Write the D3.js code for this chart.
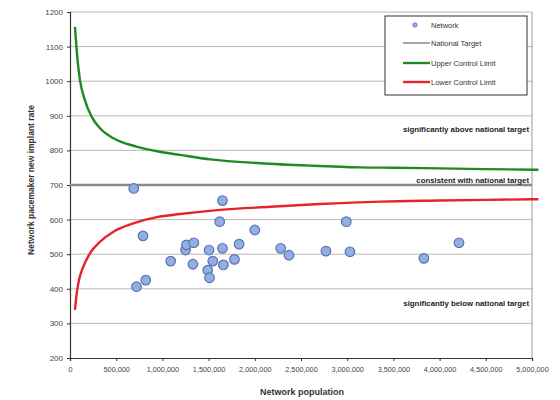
<!DOCTYPE html>
<html><head><meta charset="utf-8">
<script src="https://cdn.jsdelivr.net/npm/d3@7"></script>
<style>body{margin:0;background:#fff}svg{font-family:"Liberation Sans",Arial,sans-serif}</style>
</head><body><svg id="c" width="560" height="400"></svg>
<script>
// Network points: population, rate
const networkPop = [690000,720000,820000,790000,1090000,1250000,1260000,1340000,1330000,1490000,1510000,1505000,1545000,1620000,1650000,1650000,1660000,1780000,1830000,2000000,2280000,2370000,2770000,2990000,3030000,3830000,4210000];
const networkRate = [690,406,425,553,480,512,527,533,471,454,432,512,480,594,655,517,469,485,529,570,517,497,509,594,507,488,533];
const nationalTarget = 700;
// Control limit curves
const upperPop = [54000,80000,108000,160000,235000,325000,470000,720000,970000,1190000,1520000,2060000,2600000,3140000,3500000,4000000,4500000,5070000];
const upperRate = [1157,1065,1003,946,897,864,835,811,796,787,774,763,756,751,750,748,746,744];
const lowerPop = [54000,65000,90000,144000,217000,325000,470000,685000,940000,1190000,1620000,2170000,2700000,3360000,4000000,4500000,5070000];
const lowerRate = [339,370,416,464,503,536,565,589,607,616,628,637,645,652,655,657,659];
const xTicks = [0,500000,1000000,1500000,2000000,2500000,3000000,3500000,4000000,4500000,5000000];
const yTicks = [200,300,400,500,600,700,800,900,1000,1100,1200];
const legendLabels = ["Network","National Target","Upper Control Limit","Lower Control Limit"];
const annotations = [
  {text:"significantly above national target", y:853},
  {text:"consistent with national target", y:706},
  {text:"significantly below national target", y:350}
];

const svg = d3.select("#c");
const L=70,R=532,T=12,B=358;
const x = d3.scaleLinear().domain([0,5000000]).range([L,R]);
const y = d3.scaleLinear().domain([200,1200]).range([B,T]);

// grid
svg.append("g").selectAll("line").data(yTicks.slice(1)).join("line")
  .attr("x1",L).attr("x2",R).attr("y1",d=>y(d)).attr("y2",d=>y(d))
  .attr("stroke","#b8b8b8").attr("stroke-width",1);
// right border
svg.append("line").attr("x1",R).attr("x2",R).attr("y1",T).attr("y2",B).attr("stroke","#999");

// axes
const fmt = d3.format(",");
const xa = svg.append("g").attr("transform",`translate(0,${B})`)
  .call(d3.axisBottom(x).tickValues(xTicks).tickFormat(d=>fmt(d)).tickSize(3).tickPadding(6));
const ya = svg.append("g").attr("transform",`translate(${L},0)`)
  .call(d3.axisLeft(y).tickValues(yTicks).tickFormat(d3.format("d")).tickSize(3).tickPadding(4));
[xa,ya].forEach(a=>{
  a.select(".domain").attr("stroke","#333").attr("stroke-width",1.2);
  a.selectAll(".tick line").attr("stroke","#333");
  a.selectAll("text").attr("fill","#444").attr("font-family","Liberation Sans, Arial, sans-serif");
});
xa.selectAll("text").attr("font-size","7.3px");
ya.selectAll("text").attr("font-size","8px");

// national target
svg.append("line").attr("x1",L).attr("x2",R).attr("y1",y(nationalTarget)).attr("y2",y(nationalTarget))
  .attr("stroke","#8a8a8a").attr("stroke-width",2.6);

const line = d3.line().x(d=>x(d[0])).y(d=>y(d[1])).curve(d3.curveMonotoneX);
svg.append("path").attr("d",line(d3.zip(upperPop,upperRate))).attr("fill","none")
  .attr("stroke","#1e8a23").attr("stroke-width",2.4);
svg.append("path").attr("d",line(d3.zip(lowerPop,lowerRate))).attr("fill","none")
  .attr("stroke","#e8222c").attr("stroke-width",2.4);

// points
svg.append("g").selectAll("circle").data(d3.zip(networkPop,networkRate)).join("circle")
  .attr("cx",d=>x(d[0])).attr("cy",d=>y(d[1])).attr("r",4.8)
  .attr("fill","#93aee0").attr("stroke","#5c73b4").attr("stroke-width",1.2);

// annotations
svg.append("g").selectAll("text").data(annotations).join("text")
  .attr("x",R-3).attr("y",d=>y(d.y)).attr("text-anchor","end")
  .attr("font-size","7.8px").attr("font-weight","bold").attr("fill","#222").text(d=>d.text);

// axis titles
svg.append("text").attr("x",302).attr("y",395).attr("text-anchor","middle")
  .attr("font-size","9px").attr("font-weight","bold").attr("fill","#333").text("Network population");
svg.append("text").attr("transform","translate(34,180) rotate(-90)").attr("text-anchor","middle")
  .attr("font-size","8.5px").attr("font-weight","bold").attr("fill","#333").text("Network pacemaker new implant rate");

// legend
const lg = svg.append("g");
lg.append("rect").attr("x",385).attr("y",16).attr("width",142).attr("height",79)
  .attr("fill","#fff").attr("stroke","#333").attr("stroke-width",1);
const ly = [25,43,63,82];
const lcol = [null,"#8a8a8a","#1e8a23","#e8222c"];
legendLabels.forEach((t,i)=>{
  if(i===0){
    lg.append("circle").attr("cx",415).attr("cy",ly[i]).attr("r",2.2).attr("fill","#93aee0").attr("stroke","#5c73b4").attr("stroke-width",0.8);
  } else {
    lg.append("line").attr("x1",403).attr("x2",430).attr("y1",ly[i]).attr("y2",ly[i])
      .attr("stroke",lcol[i]).attr("stroke-width",i===1?1.5:2.4);
  }
  lg.append("text").attr("x",431).attr("y",ly[i]+2.5).attr("font-size","7.5px").attr("fill","#333").text(t);
});
</script></body></html>
